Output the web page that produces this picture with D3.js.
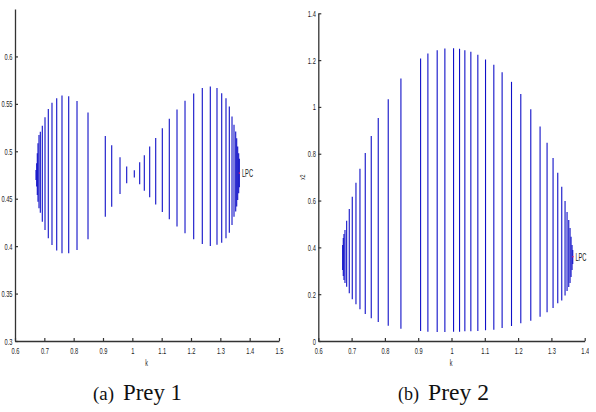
<!DOCTYPE html>
<html>
<head>
<meta charset="utf-8">
<script src="https://cdn.jsdelivr.net/npm/d3@7"></script>
<style>
  body { margin: 0; background: #fff; }
  svg { display: block; }
  .tick text, .lbl { font-family: "Liberation Sans", Arial, sans-serif; fill: #222; }
  .cap { font-family: "Times New Roman", "Liberation Serif", Times, serif; fill: #111; }
</style>
</head>
<body>
<div id="chart"></div>
<script>
// Prey 1 : continuation of limit cycles, min / max of x1 for each k
const kPrey1 = [0.6716, 0.6740, 0.6760, 0.6784, 0.6818, 0.6863, 0.6931, 0.7023, 0.7135, 0.7261,
  0.7422, 0.7602, 0.7831, 0.8114, 0.8489, 0.9078, 0.9297, 0.9580, 0.9808, 1.0067,
  1.0251, 1.0408, 1.0592, 1.0797, 1.1022, 1.1260, 1.1523, 1.1796, 1.2092, 1.2385,
  1.2658, 1.2886, 1.3047, 1.3193, 1.3306, 1.3398, 1.3466, 1.3524, 1.3558, 1.3592,
  1.3626, 1.3647];
const minPrey1 = [0.4698, 0.4628, 0.4540, 0.4469, 0.4400, 0.4353, 0.4258, 0.4171, 0.4083, 0.4013,
  0.3953, 0.3925, 0.3925, 0.3960, 0.4073, 0.4311, 0.4414, 0.4551, 0.4664, 0.4723,
  0.4653, 0.4585, 0.4516, 0.4438, 0.4361, 0.4284, 0.4206, 0.4136, 0.4073, 0.4023,
  0.4002, 0.4016, 0.4037, 0.4083, 0.4142, 0.4224, 0.4311, 0.4364, 0.4417, 0.4487,
  0.4558, 0.4620];
const maxPrey1 = [0.4804, 0.4874, 0.4980, 0.5085, 0.5173, 0.5205, 0.5268, 0.5360, 0.5447, 0.5511,
  0.5560, 0.5588, 0.5581, 0.5529, 0.5408, 0.5162, 0.5064, 0.4938, 0.4839, 0.4801,
  0.4885, 0.4959, 0.5050, 0.5141, 0.5244, 0.5342, 0.5440, 0.5532, 0.5609, 0.5666,
  0.5683, 0.5666, 0.5613, 0.5560, 0.5472, 0.5366, 0.5279, 0.5208, 0.5138, 0.5050,
  0.4980, 0.4920];

// Prey 2 : min / max of x2 for each k
const kPrey2 = [0.6732, 0.6750, 0.6771, 0.6801, 0.6852, 0.6930, 0.7020, 0.7131, 0.7251, 0.7410,
  0.7590, 0.7800, 0.8100, 0.8481, 0.9072, 0.9291, 0.9570, 0.9801, 1.0062, 1.0242,
  1.0401, 1.0581, 1.0791, 1.1022, 1.1271, 1.1520, 1.1802, 1.2081, 1.2381, 1.2660,
  1.2870, 1.3050, 1.3191, 1.3311, 1.3410, 1.3470, 1.3521, 1.3560, 1.3590, 1.3620,
  1.3641];
const minPrey2 = [0.3032, 0.2775, 0.2605, 0.2476, 0.2319, 0.2037, 0.1781, 0.1567, 0.1354, 0.1153,
  0.0969, 0.0811, 0.0653, 0.0525, 0.0427, 0.0397, 0.0384, 0.0384, 0.0397, 0.0397,
  0.0414, 0.0414, 0.0427, 0.0457, 0.0482, 0.0555, 0.0640, 0.0756, 0.0867, 0.1038,
  0.1225, 0.1409, 0.1610, 0.1729, 0.1943, 0.2135, 0.2306, 0.2476, 0.2733, 0.3032,
  0.3288];
const maxPrey2 = [0.4099, 0.4398, 0.4569, 0.4740, 0.5137, 0.5636, 0.6161, 0.6759, 0.7357, 0.8027,
  0.8753, 0.9522, 1.0333, 1.1217, 1.2071, 1.2284, 1.2425, 1.2498, 1.2511, 1.2481,
  1.2425, 1.2353, 1.2225, 1.2028, 1.1798, 1.1486, 1.1072, 1.0547, 0.9906, 0.9167,
  0.8467, 0.7814, 0.7186, 0.6588, 0.5978, 0.5508, 0.5167, 0.4825, 0.4453, 0.4099,
  0.3886];

// LPC points (k, value)
const lpcPrey1 = [1.3650, 0.4770];
const lpcPrey2 = [1.3645, 0.3600];

// tick labels
const xTicksPrey1 = [0.6, 0.7, 0.8, 0.9, 1, 1.1, 1.2, 1.3, 1.4, 1.5];
const yTicksPrey1 = [0.3, 0.35, 0.4, 0.45, 0.5, 0.55, 0.6];
const xTicksPrey2 = [0.6, 0.7, 0.8, 0.9, 1, 1.1, 1.2, 1.3, 1.4];
const yTicksPrey2 = [0, 0.2, 0.4, 0.6, 0.8, 1, 1.2, 1.4];

const width = 596, height = 412;
const svg = d3.select("#chart").append("svg")
    .attr("width", width)
    .attr("height", height);

// squash text horizontally, the figure was scaled down unevenly
function condense(sel, f) {
    sel.each(function () {
        const w = this.getComputedTextLength();
        d3.select(this).attr("textLength", w * f).attr("lengthAdjust", "spacingAndGlyphs");
    });
}

function drawPanel(p) {
    const g = svg.append("g");

    const xScale = d3.scaleLinear().domain(p.xDomain).range(p.xRange);
    const yScale = d3.scaleLinear().domain(p.yDomain).range(p.yRange);

    const fmt = d => String(+d.toFixed(2));

    // cycle lines: one vertical segment per k
    g.append("g").selectAll("line")
        .data(p.k.map((k, i) => ({ k: k, lo: p.lo[i], hi: p.hi[i] })))
        .join("line")
        .attr("x1", d => xScale(d.k))
        .attr("x2", d => xScale(d.k))
        .attr("y1", d => yScale(d.lo))
        .attr("y2", d => yScale(d.hi))
        .attr("stroke", "#1010c8")
        .attr("stroke-width", 1.1);

    // axes, ticks point inwards like matlab
    const xAxis = g.append("g")
        .attr("transform", `translate(0,${p.yRange[0]})`)
        .call(d3.axisBottom(xScale).tickValues(p.xTicks).tickFormat(fmt)
            .tickSizeInner(-3).tickSizeOuter(0).tickPadding(6));
    const yAxis = g.append("g")
        .attr("transform", `translate(${p.xRange[0]},0)`)
        .call(d3.axisLeft(yScale).tickValues(p.yTicks).tickFormat(fmt)
            .tickSizeInner(-3).tickSizeOuter(0).tickPadding(2.5));

    [xAxis, yAxis].forEach(a => {
        a.select(".domain").attr("stroke", "#333").attr("stroke-width", 1.3);
        a.selectAll(".tick line").attr("stroke", "#333").attr("stroke-width", 1.2);
        a.selectAll(".tick text").attr("font-size", 9.5).attr("fill", "#222");
        condense(a.selectAll(".tick text"), 0.6);
    });
    if (p.clipRight) {
        xAxis.selectAll(".tick text").filter(d => d === p.xTicks[p.xTicks.length - 1])
            .attr("clip-path", "url(#clipEdge)");
    }

    // axis labels
    const kLabel = g.append("text")
        .attr("class", "lbl")
        .attr("x", (p.xRange[0] + p.xRange[1]) / 2 - 0.5)
        .attr("y", 366)
        .attr("text-anchor", "middle")
        .attr("font-size", 9)
        .text("k");
    condense(kLabel, 0.6);

    if (p.yLabel) {
        const yl = g.append("text")
            .attr("class", "lbl")
            .attr("transform", `translate(${p.xRange[0] - 13},${(p.yRange[0] + p.yRange[1]) / 2}) rotate(-90)`)
            .attr("text-anchor", "middle")
            .attr("font-size", 8)
            .text(p.yLabel);
        condense(yl, 0.6);
    }

    // LPC point and label
    g.append("circle")
        .attr("cx", xScale(p.lpc[0]))
        .attr("cy", yScale(p.lpc[1]))
        .attr("r", 0.8)
        .attr("fill", "#e0206a");
    const lpc = g.append("text")
        .attr("class", "lbl")
        .attr("x", xScale(p.lpc[0]) + 2.5)
        .attr("y", yScale(p.lpc[1]) + 4)
        .attr("font-size", 11)
        .text("LPC");
    condense(lpc, 0.52);

    // caption
    const c1 = svg.append("text").attr("class", "cap")
        .attr("x", p.capX).attr("y", 400).attr("font-size", 19).text(p.capTag);
    condense(c1, 21 / c1.node().getComputedTextLength());
    const c2 = svg.append("text").attr("class", "cap")
        .attr("x", p.capX + 30).attr("y", 400).attr("font-size", 23).text(p.capText);
    condense(c2, p.capW / c2.node().getComputedTextLength());
}

svg.append("clipPath").attr("id", "clipEdge")
    .append("rect").attr("x", -10).attr("y", 0).attr("width", 14).attr("height", 30);

drawPanel({
    k: kPrey1, lo: minPrey1, hi: maxPrey1,
    xDomain: [0.6, 1.5], xRange: [15, 279],
    yDomain: [0.3, 0.65], yRange: [341, 9],
    xTicks: xTicksPrey1, yTicks: yTicksPrey1,
    lpc: lpcPrey1, yLabel: null,
    capX: 93, capTag: "(a)", capText: "Prey 1", capW: 59
});

drawPanel({
    k: kPrey2, lo: minPrey2, hi: maxPrey2,
    xDomain: [0.6, 1.4], xRange: [318.3, 584.7],
    yDomain: [0, 1.4], yRange: [341, 13.3],
    xTicks: xTicksPrey2, yTicks: yTicksPrey2,
    lpc: lpcPrey2, yLabel: "x2", clipRight: true,
    capX: 398, capTag: "(b)", capText: "Prey 2", capW: 61
});
</script>
</body>
</html>
